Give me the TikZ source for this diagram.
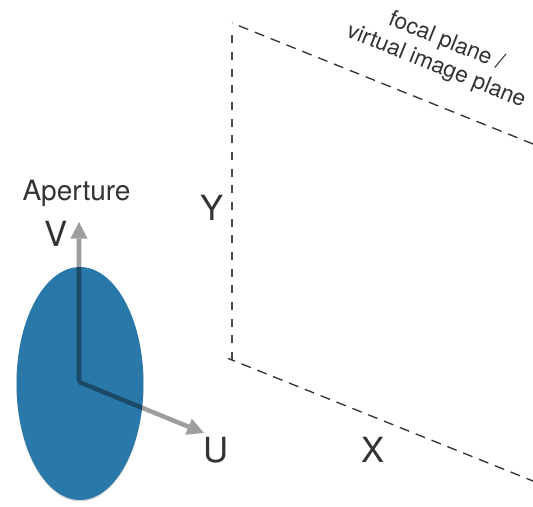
\documentclass[tikz,border=0pt]{standalone}
\usepackage{fontspec}
\setmainfont{TeX Gyre Heros}
\usepackage{xcolor}
\usetikzlibrary{arrows.meta,shapes.geometric,shadows}
\definecolor{lensblue}{HTML}{2A78A9}
\definecolor{bk90}{HTML}{333333}
\definecolor{bk70}{HTML}{4A4A4A}
\newlength{\punit}
\setlength{\punit}{0.75pt}
\tikzset{
  lensbox/.style={
    ellipse, fill=lensblue, inner sep=0pt,
    minimum width=127\punit, minimum height=233\punit,
    drop shadow={shadow xshift=0pt, shadow yshift=-1pt, opacity=0.35}
  },
  axisarrow/.style={
    -{Triangle[length=12.5pt,width=13pt,line width=0pt]}, line width=3.4pt, black
  },
  planeline/.style={
    draw=bk90, line width=1pt, dash pattern=on 7.5pt off 5.3pt, dash phase=#1
  },
  planeline/.default=0pt,
  sideline/.style={
    draw=bk70, line width=1pt, dash pattern=on 6pt off 6.5pt
  },
  axislabel/.style={font=\fontsize{26}{30}\selectfont, text=bk90, inner sep=0pt},
  planelabel/.style={font=\fontsize{17}{20}\selectfont, text=bk90, inner sep=0pt,
    align=center, rotate=-22},
}
\begin{document}
\begin{tikzpicture}[x=0.75pt,y=-0.75pt]
\useasboundingbox (0,0) rectangle (533,507);
% aperture
\node[lensbox] (lens) at (80,383.5) {};
\coordinate (origin) at (79,382);
\coordinate (vtip) at (79,222);
\coordinate (utip) at (204,433);
\begin{scope}[transparency group, opacity=0.38]
\draw[axisarrow] (origin) -- (vtip);
\draw[axisarrow] (origin) -- (utip);
\end{scope}
\node[font=\fontsize{21}{24}\selectfont, text=bk90, inner sep=0pt] (aperture) at (76.5,193) {Aperture};
\node[axislabel] (vlabel) at (56,234) {V};
\node[axislabel] (ulabel) at (216,450) {U};
% focal plane
\coordinate (tl) at (232,23);
\coordinate (sidetop) at (232,28);
\coordinate (tr) at (533,144);
\coordinate (bl) at (232,360);
\coordinate (blstart) at (228,358.4);
\coordinate (br) at (533,481);
\draw[sideline] (bl) -- (sidetop);
\draw[planeline=7.2pt] (tl) -- (tr);
\draw[planeline=1.9pt] (blstart) -- (br);
\node[axislabel] (ylabel) at (212,208) {Y};
\node[axislabel] (xlabel) at (373,450) {X};
\node[planelabel] (planename) at (441,54) {focal plane /\\virtual image plane};
\end{tikzpicture}
\end{document}
